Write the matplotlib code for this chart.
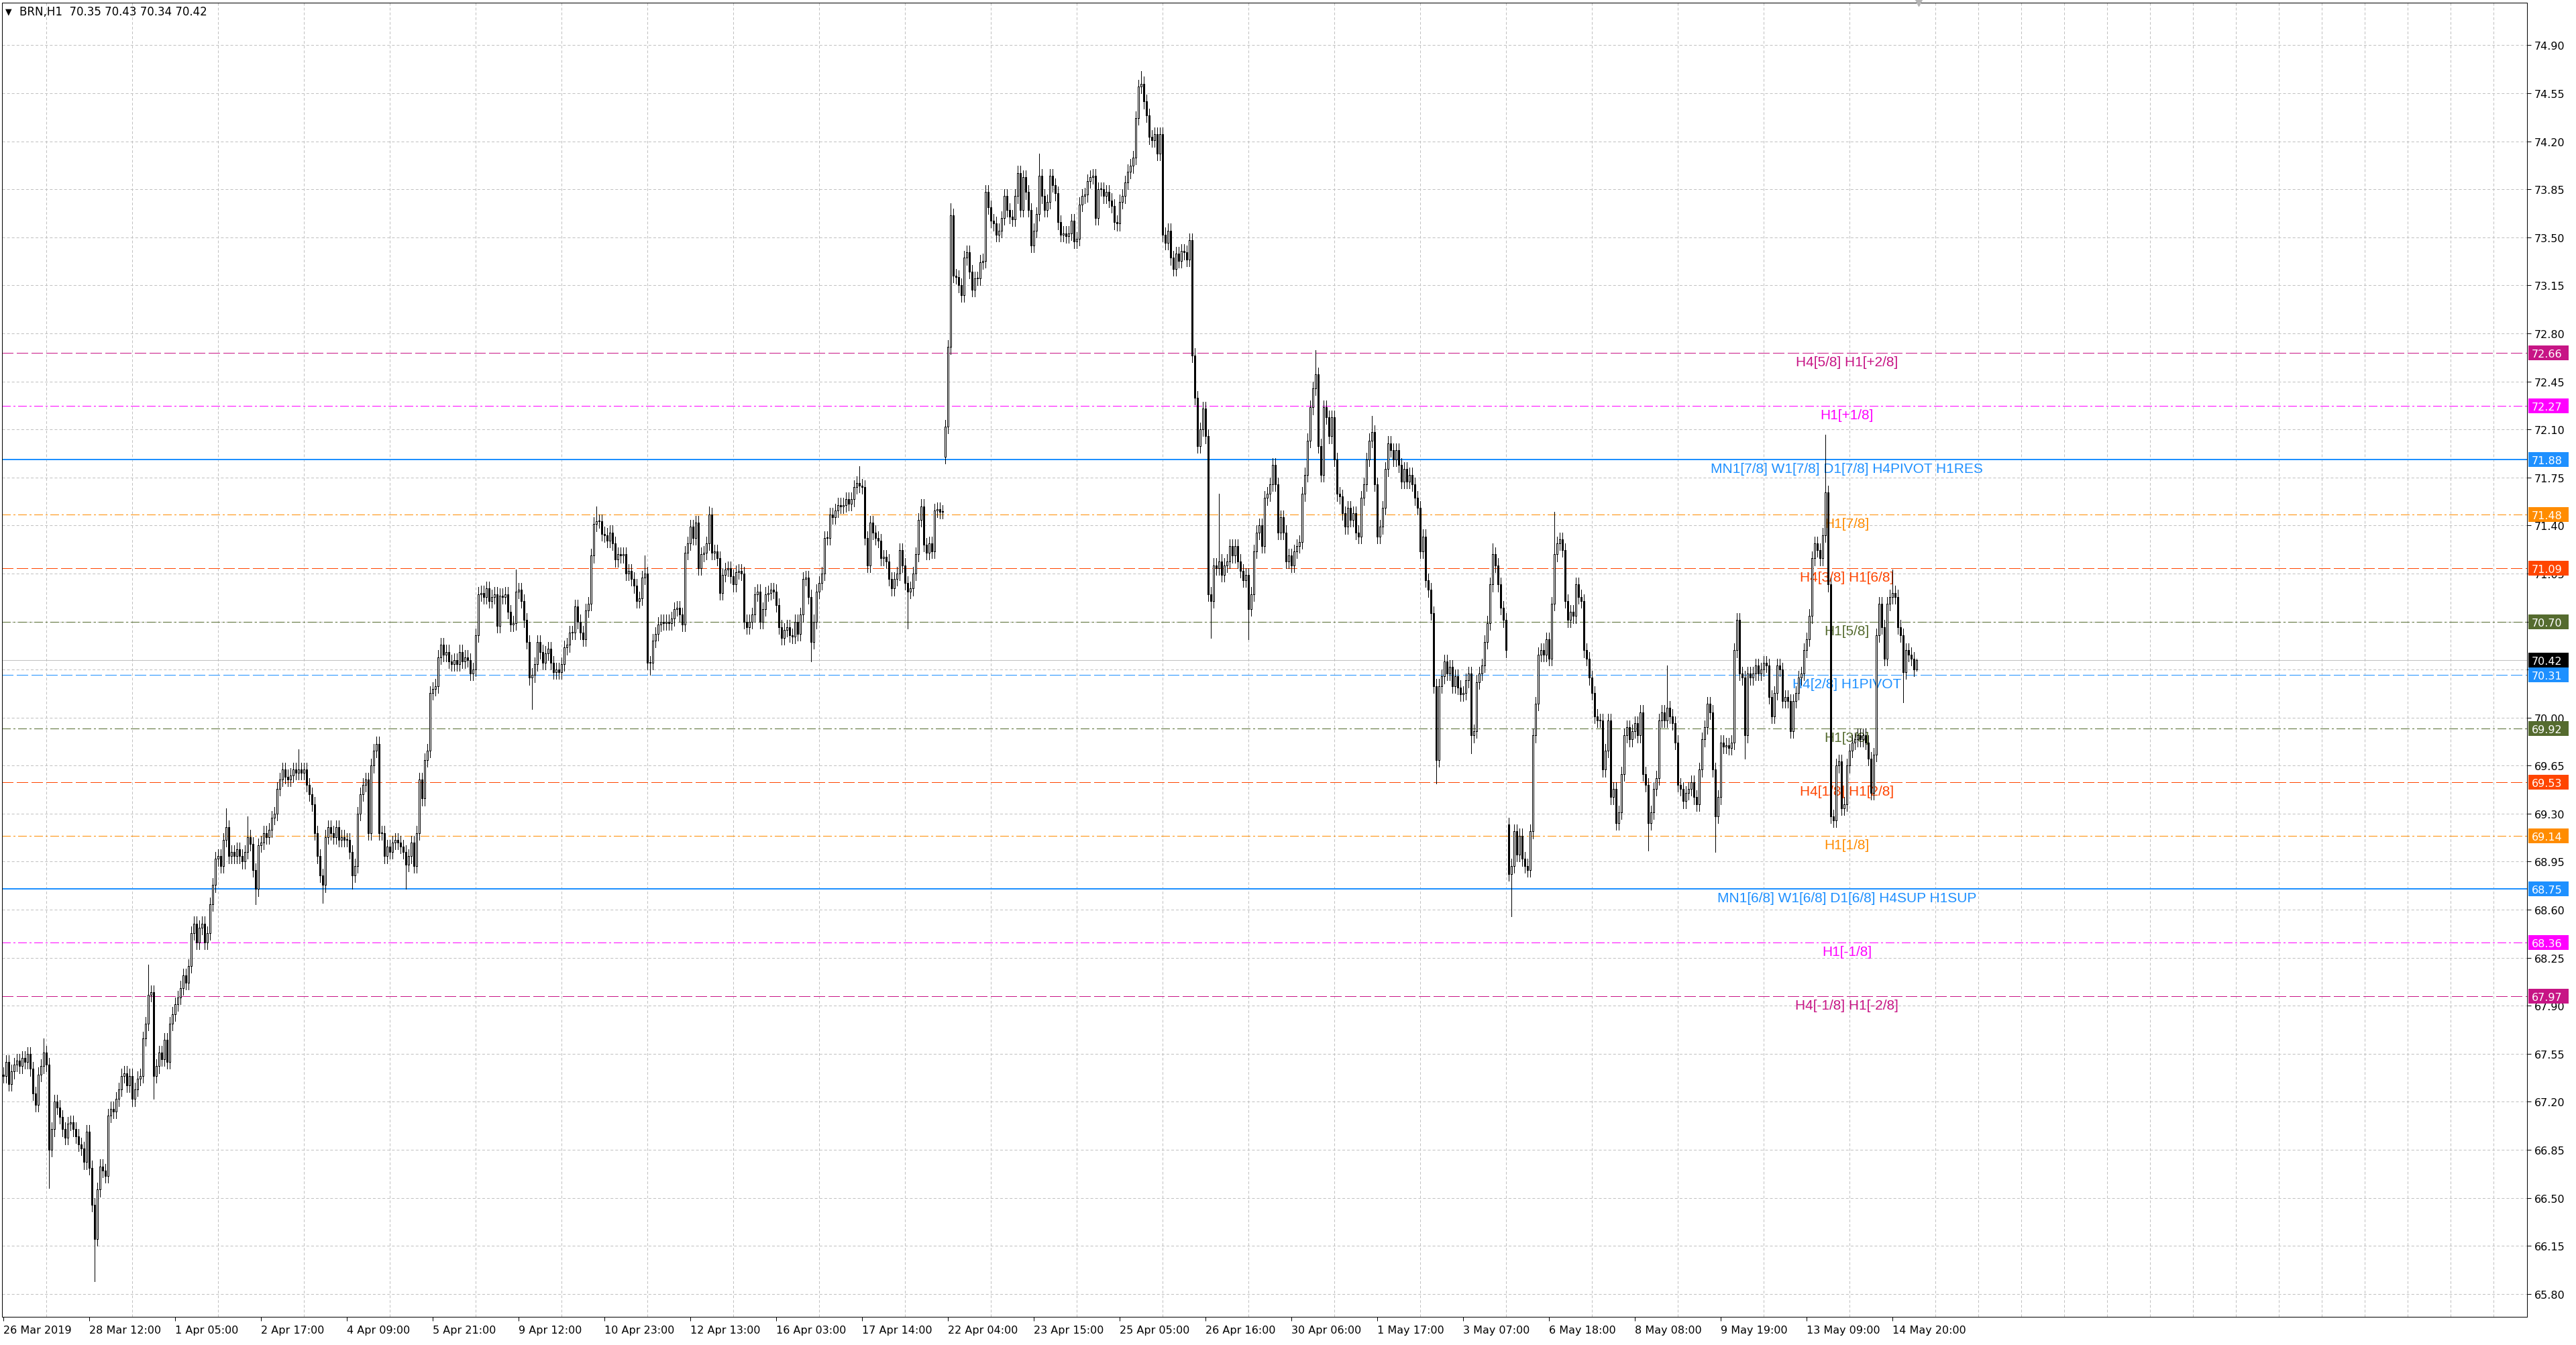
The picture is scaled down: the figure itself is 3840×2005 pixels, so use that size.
import matplotlib
matplotlib.use("Agg")
import matplotlib.pyplot as plt
import matplotlib.transforms as mtransforms
from matplotlib.patches import Rectangle
import numpy as np

symbol = "BRN,H1"
last_ohlc = [70.35, 70.43, 70.34, 70.42]
first_open = 67.40

# hourly closes, one row per 16 bars (one grid column)
closes = [
    67.39, 67.49, 67.33, 67.42, 67.47, 67.50, 67.46, 67.52, 67.49, 67.55, 67.44, 67.26, 67.18, 67.40, 67.46, 67.56,
    67.47, 66.85, 67.00, 67.20, 67.16, 67.09, 67.00, 66.94, 67.04, 67.05, 67.00, 66.95, 66.89, 66.86, 66.76, 66.98,
    66.72, 66.45, 66.20, 66.56, 66.73, 66.70, 66.66, 67.10, 67.15, 67.13, 67.22, 67.29, 67.39, 67.41, 67.32, 67.39,
    67.22, 67.29, 67.37, 67.39, 67.66, 67.77, 67.98, 68.00, 67.39, 67.46, 67.56, 67.51, 67.65, 67.49, 67.77, 67.84,
    67.91, 67.96, 68.03, 68.12, 68.07, 68.19, 68.43, 68.50, 68.36, 68.47, 68.50, 68.36, 68.43, 68.64, 68.78, 68.97,
    68.99, 68.92, 69.11, 69.20, 68.99, 69.02, 68.99, 69.04, 68.99, 68.95, 69.02, 69.13, 69.08, 68.89, 68.75, 69.07,
    69.09, 69.16, 69.13, 69.18, 69.27, 69.30, 69.48, 69.55, 69.62, 69.57, 69.55, 69.58, 69.62, 69.60, 69.62, 69.60,
    69.62, 69.51, 69.44, 69.37, 69.16, 68.99, 68.85, 68.78, 69.13, 69.20, 69.16, 69.13, 69.20, 69.11, 69.13, 69.11,
    69.11, 69.02, 68.85, 68.92, 69.30, 69.44, 69.51, 69.55, 69.16, 69.65, 69.76, 69.81, 69.16, 69.16, 68.99, 69.06,
    69.02, 69.09, 69.11, 69.09, 69.06, 69.02, 68.93, 68.99, 69.09, 68.92, 69.16, 69.55, 69.41, 69.69, 69.76, 70.18,
    70.21, 70.23, 70.44, 70.53, 70.46, 70.48, 70.41, 70.39, 70.42, 70.39, 70.48, 70.41, 70.44, 70.42, 70.32, 70.35,
    70.60, 70.90, 70.91, 70.88, 70.94, 70.85, 70.88, 70.90, 70.67, 70.89, 70.88, 70.90, 70.77, 70.68, 70.69, 70.92,
    70.93, 70.85, 70.71, 70.55, 70.29, 70.31, 70.39, 70.55, 70.48, 70.40, 70.47, 70.50, 70.40, 70.33, 70.35, 70.33,
    70.39, 70.51, 70.53, 70.62, 70.62, 70.81, 70.70, 70.62, 70.57, 70.78, 70.83, 71.18, 71.41, 71.43, 71.43, 71.34,
    71.33, 71.29, 71.35, 71.27, 71.15, 71.19, 71.18, 71.19, 71.05, 71.07, 71.01, 70.96, 70.85, 70.87, 71.02, 71.05,
    70.40, 70.40, 70.56, 70.61, 70.68, 70.70, 70.69, 70.70, 70.69, 70.72, 70.79, 70.80, 70.75, 70.68, 71.20, 71.27,
    71.39, 71.31, 71.42, 71.09, 71.19, 71.20, 71.27, 71.48, 71.20, 71.21, 71.16, 70.91, 71.04, 71.08, 71.09, 71.03,
    70.97, 71.06, 71.07, 71.05, 70.70, 70.66, 70.70, 70.75, 70.90, 70.92, 70.70, 70.79, 70.90, 70.91, 70.93, 70.92,
    70.82, 70.66, 70.58, 70.64, 70.66, 70.60, 70.59, 70.70, 70.61, 70.75, 71.01, 71.02, 70.88, 70.55, 70.70, 70.92,
    70.98, 71.05, 71.31, 71.31, 71.48, 71.46, 71.51, 71.55, 71.54, 71.55, 71.59, 71.56, 71.59, 71.68, 71.71, 71.69,
    71.68, 71.31, 71.11, 71.42, 71.35, 71.31, 71.29, 71.16, 71.17, 71.14, 71.01, 70.94, 71.01, 71.05, 71.22, 71.11,
    70.98, 70.92, 70.94, 71.05, 71.19, 71.44, 71.54, 71.26, 71.20, 71.27, 71.21, 71.51, 71.52, 71.50, 71.50, 72.12,
    72.70, 73.66, 73.22, 73.21, 73.15, 73.08, 73.35, 73.39, 73.25, 73.12, 73.20, 73.20, 73.32, 73.33, 73.83, 73.72,
    73.62, 73.60, 73.52, 73.55, 73.64, 73.80, 73.70, 73.65, 73.63, 73.80, 73.97, 73.70, 73.94, 73.83, 73.70, 73.44,
    73.55, 73.67, 73.95, 73.80, 73.70, 73.76, 73.95, 73.88, 73.82, 73.61, 73.52, 73.53, 73.51, 73.53, 73.62, 73.47,
    73.49, 73.74, 73.80, 73.81, 73.91, 73.94, 73.95, 73.64, 73.85, 73.85, 73.80, 73.83, 73.77, 73.73, 73.61, 73.60,
    73.76, 73.80, 73.90, 73.98, 74.02, 74.08, 74.37, 74.60, 74.62, 74.49, 74.39, 74.23, 74.21, 74.25, 74.11, 74.25,
    73.52, 73.46, 73.55, 73.35, 73.27, 73.38, 73.33, 73.40, 73.39, 73.34, 73.48, 72.64, 72.33, 71.98, 72.10, 72.25,
    72.05, 70.90, 70.85, 71.11, 71.09, 71.14, 71.04, 71.11, 71.14, 71.25, 71.18, 71.25, 71.14, 71.07, 71.00, 71.04,
    70.79, 70.90, 71.21, 71.35, 71.40, 71.25, 71.60, 71.63, 71.70, 71.84, 71.70, 71.35, 71.46, 71.35, 71.14, 71.18,
    71.11, 71.21, 71.25, 71.28, 71.63, 71.77, 72.02, 72.26, 72.40, 72.50, 71.98, 71.77, 72.26, 72.19, 72.05, 72.19,
    71.88, 71.63, 71.61, 71.49, 71.39, 71.53, 71.44, 71.49, 71.35, 71.32, 71.60, 71.70, 71.88, 72.02, 72.08, 71.70,
    71.32, 71.39, 71.53, 71.81, 72.00, 71.95, 71.88, 71.95, 71.84, 71.72, 71.81, 71.72, 71.77, 71.70, 71.60, 71.53,
    71.21, 71.32, 71.00, 70.93, 70.76, 70.23, 69.69, 70.23, 70.30, 70.41, 70.32, 70.37, 70.23, 70.30, 70.22, 70.17,
    70.18, 70.27, 70.32, 69.87, 69.90, 70.26, 70.32, 70.38, 70.55, 70.69, 70.97, 71.19, 71.11, 70.97, 70.80, 70.71,
    70.49, 68.86, 68.92, 69.17, 69.00, 69.14, 68.97, 68.92, 68.89, 69.17, 69.87, 70.10, 70.46, 70.49, 70.46, 70.57,
    70.43, 70.83, 71.19, 71.27, 71.30, 71.22, 70.85, 70.71, 70.77, 70.74, 70.97, 70.88, 70.85, 70.49, 70.43, 70.29,
    70.18, 70.01, 69.98, 69.98, 69.62, 69.76, 69.98, 69.42, 69.48, 69.23, 69.31, 69.59, 69.87, 69.93, 69.84, 69.90,
    69.96, 69.87, 70.04, 69.59, 69.51, 69.23, 69.31, 69.48, 69.56, 69.98, 70.04, 69.98, 70.07, 70.01, 69.96, 69.82,
    69.51, 69.48, 69.39, 69.45, 69.48, 69.53, 69.42, 69.37, 69.62, 69.84, 69.93, 70.10, 70.04, 69.62, 69.28, 69.42,
    69.82, 69.79, 69.80, 69.78, 69.82, 70.49, 70.71, 70.32, 70.29, 69.87, 70.32, 70.29, 70.32, 70.38, 70.32, 70.35,
    70.40, 70.38, 70.15, 70.01, 70.18, 70.38, 70.35, 70.12, 70.15, 70.12, 69.90, 70.12, 70.18, 70.29, 70.32, 70.49,
    70.57, 70.74, 71.16, 71.27, 71.22, 71.16, 71.33, 71.64, 70.97, 69.28, 69.25, 69.65, 69.68, 69.34, 69.37, 69.65,
    69.76, 69.82, 69.84, 69.87, 69.84, 69.87, 69.82, 69.70, 69.45, 69.73, 70.60, 70.83, 70.66, 70.43, 70.83, 70.88,
    70.91, 70.88, 70.66, 70.60, 70.33, 70.49, 70.46, 70.43, 70.35, 70.42,
]

# opens that gapped away from the previous close
gap_opens = {351: 71.90, 561: 69.22}
# long wicks that stand out
spike_highs = {15: 67.66, 54: 68.20, 83: 69.34, 91: 69.28, 110: 69.77, 139: 69.84, 191: 71.08,
               221: 71.54, 239: 71.18, 263: 71.54, 319: 71.83, 353: 73.75, 386: 74.11, 424: 74.71,
               453: 71.63, 473: 71.88, 489: 72.68, 510: 72.20, 555: 71.27, 578: 71.50, 620: 70.38,
               679: 72.06, 704: 71.08}
spike_lows = {17: 66.57, 34: 65.89, 56: 67.22, 94: 68.64, 119: 68.65, 130: 68.75, 150: 68.75,
              197: 70.06, 241: 70.31, 301: 70.41, 337: 70.65, 450: 70.58, 464: 70.57, 534: 69.52,
              547: 69.74, 562: 68.55, 613: 69.03, 638: 69.02, 649: 69.70, 682: 69.24, 708: 70.11}

time_labels = ['26 Mar 2019', '28 Mar 12:00', '1 Apr 05:00', '2 Apr 17:00', '4 Apr 09:00',
               '5 Apr 21:00', '9 Apr 12:00', '10 Apr 23:00', '12 Apr 13:00', '16 Apr 03:00',
               '17 Apr 14:00', '22 Apr 04:00', '23 Apr 15:00', '25 Apr 05:00', '26 Apr 16:00',
               '30 Apr 06:00', '1 May 17:00', '3 May 07:00', '6 May 18:00', '8 May 08:00',
               '9 May 19:00', '13 May 09:00', '14 May 20:00']

level_prices = [72.66, 72.27, 71.88, 71.48, 71.09, 70.70, 70.31, 69.92, 69.53, 69.14, 68.75, 68.36, 67.97]
level_names = ['H4[5/8] H1[+2/8]', 'H1[+1/8]', 'MN1[7/8] W1[7/8] D1[7/8] H4PIVOT H1RES', 'H1[7/8]',
               'H4[3/8] H1[6/8]', 'H1[5/8]', 'H4[2/8] H1PIVOT', 'H1[3/8]', 'H4[1/8] H1[2/8]',
               'H1[1/8]', 'MN1[6/8] W1[6/8] D1[6/8] H4SUP H1SUP', 'H1[-1/8]', 'H4[-1/8] H1[-2/8]']
level_colors = ['#C71585', '#FF00FF', '#1E90FF', '#FF8C00', '#FF4500', '#556B2F', '#1E90FF',
                '#556B2F', '#FF4500', '#FF8C00', '#1E90FF', '#FF00FF', '#C71585']
level_styles = ['dash', 'dashdot', 'solid', 'dashdot', 'dash', 'dashdot', 'dash',
                'dashdot', 'dash', 'dashdot', 'solid', 'dashdot', 'dash']

# ---- layout (pixels of the 3840x2006 screenshot) ----
W, H = 3840, 2006
AX_L, AX_R, AX_T, AX_B = 3, 3767, 5, 1964
BAR0_PX, BAR_STEP = 5, 4           # first bar centre, bar spacing
Y_TOP, Y_BOT = 75.21, 65.633
TICK_STEP = 0.35
LABEL_BAR = 687                    # where the level captions are centred
WICK = 0.05
PX = 0.72                          # one pixel in points at dpi 100

plt.rcParams['font.family'] = ['DejaVu Sans']
plt.rcParams['lines.scale_dashes'] = False

fig = plt.figure(figsize=(W / 100, H / 100), dpi=100, facecolor='white')
ax = fig.add_axes([AX_L / W, (H - AX_B) / H, (AX_R - AX_L) / W, (AX_B - AX_T) / H])
ax.set_facecolor('white')

x_lo = (AX_L - BAR0_PX) / BAR_STEP
x_hi = (AX_R - BAR0_PX) / BAR_STEP
ax.set_xlim(x_lo, x_hi)
ax.set_ylim(Y_BOT, Y_TOP)

# ---- candles ----
c = np.array(closes)
n = len(c)
xs = np.arange(n)
o = np.empty(n)
o[0] = first_open
o[1:] = c[:-1]
for k, v in gap_opens.items():
    o[k] = v
o[-1] = last_ohlc[0]
hi = np.maximum(o, c) + WICK
lo = np.minimum(o, c) - WICK
for k, v in spike_highs.items():
    hi[k] = max(hi[k], v)
for k, v in spike_lows.items():
    lo[k] = min(lo[k], v)
hi[-1], lo[-1] = last_ohlc[1], last_ohlc[2]

up = c >= o
bottom = np.minimum(o, c)
height = np.maximum(np.abs(c - o), 0.004)

ax.vlines(xs, lo, hi, color='black', linewidth=PX, zorder=3, antialiased=False)
ax.bar(xs[up], height[up], bottom=bottom[up], width=0.5, facecolor='white',
       edgecolor='black', linewidth=PX, zorder=4, antialiased=False)
ax.bar(xs[~up], height[~up], bottom=bottom[~up], width=0.5, facecolor='black',
       edgecolor='black', linewidth=PX, zorder=4, antialiased=False)

# ---- level lines ----
dash_map = {'dash': (0, (12, 4)), 'dashdot': (0, (9, 3, 1.5, 3)), 'solid': '-'}
for price, name, color, style in zip(level_prices, level_names, level_colors, level_styles):
    lw = 2 * PX if style == 'solid' else PX
    ax.axhline(price, color=color, linestyle=dash_map[style], linewidth=lw, zorder=1,
               antialiased=False)
    ax.annotate(name, xy=(LABEL_BAR, price), xytext=(0, -4), textcoords='offset pixels',
                ha='center', va='top', color=color, fontsize=15,
                fontfamily=['Liberation Sans', 'DejaVu Sans'], zorder=2)

# bid line
ax.axhline(last_ohlc[3], color='#C0C0C0', linewidth=PX, zorder=1, antialiased=False)

# ---- grid and axes ----
yt = np.round(np.arange(65.80, 74.91, TICK_STEP), 2)
ax.set_yticks(yt)
ax.set_yticklabels([f'{v:.2f}' for v in yt])
ax.yaxis.tick_right()
ax.tick_params(axis='y', which='major', direction='out', length=4, width=PX, pad=4,
               labelsize=11.5, colors='black')

label_bars = np.arange(len(time_labels)) * 32
ax.set_xticks(label_bars)
ax.set_xticklabels(time_labels, ha='left')
ax.set_xticks(np.arange(16, x_hi, 16), minor=True)
ax.tick_params(axis='x', which='major', direction='out', length=4, width=PX, pad=5,
               labelsize=11.5, colors='black')
ax.tick_params(axis='x', which='minor', length=0)

grid_kw = dict(color='#C0C0C0', linestyle=(0, (2.9, 2.2)), linewidth=PX)
ax.yaxis.grid(True, **grid_kw)
ax.xaxis.grid(True, which='minor', **grid_kw)
ax.xaxis.grid(False, which='major')
ax.set_axisbelow(True)
for sp in ax.spines.values():
    sp.set_color('black')
    sp.set_linewidth(PX)

# ---- price tags on the right axis ----
ppu = (AX_B - AX_T) / (Y_TOP - Y_BOT)
tag_h = 22 / ppu
tag_x0 = 1 + 2 / (AX_R - AX_L)
tag_w = 60 / (AX_R - AX_L)
trans = mtransforms.blended_transform_factory(ax.transAxes, ax.transData)
tags = list(zip(level_prices, level_colors)) + [(last_ohlc[3], 'black')]
for price, color in tags:
    ax.add_patch(Rectangle((tag_x0, price - tag_h / 2), tag_w, tag_h, transform=trans,
                           facecolor=color, edgecolor='none', clip_on=False, zorder=5))
    ax.text(tag_x0 + 5 / (AX_R - AX_L), price, f'{price:.2f}', transform=trans,
            ha='left', va='center_baseline', color='white', fontsize=11.5, clip_on=False, zorder=6)

# chart shift marker at the top
ax.plot([n - 0.25], [1.0], marker='v', markersize=7, color='#B4B4B4',
        transform=mtransforms.blended_transform_factory(ax.transData, ax.transAxes),
        clip_on=False, zorder=6)

# ---- title in the corner ----
fig.text(8 / W, 1 - 18 / H, '\u25BC', fontsize=9, va='center', ha='left', color='black')
fig.text(29 / W, 1 - 18 / H, f"{symbol}  " + ' '.join(f'{v:.2f}' for v in last_ohlc),
         fontsize=12, va='center', ha='left', color='black')

fig.savefig('out.png', dpi=100, facecolor='white')
